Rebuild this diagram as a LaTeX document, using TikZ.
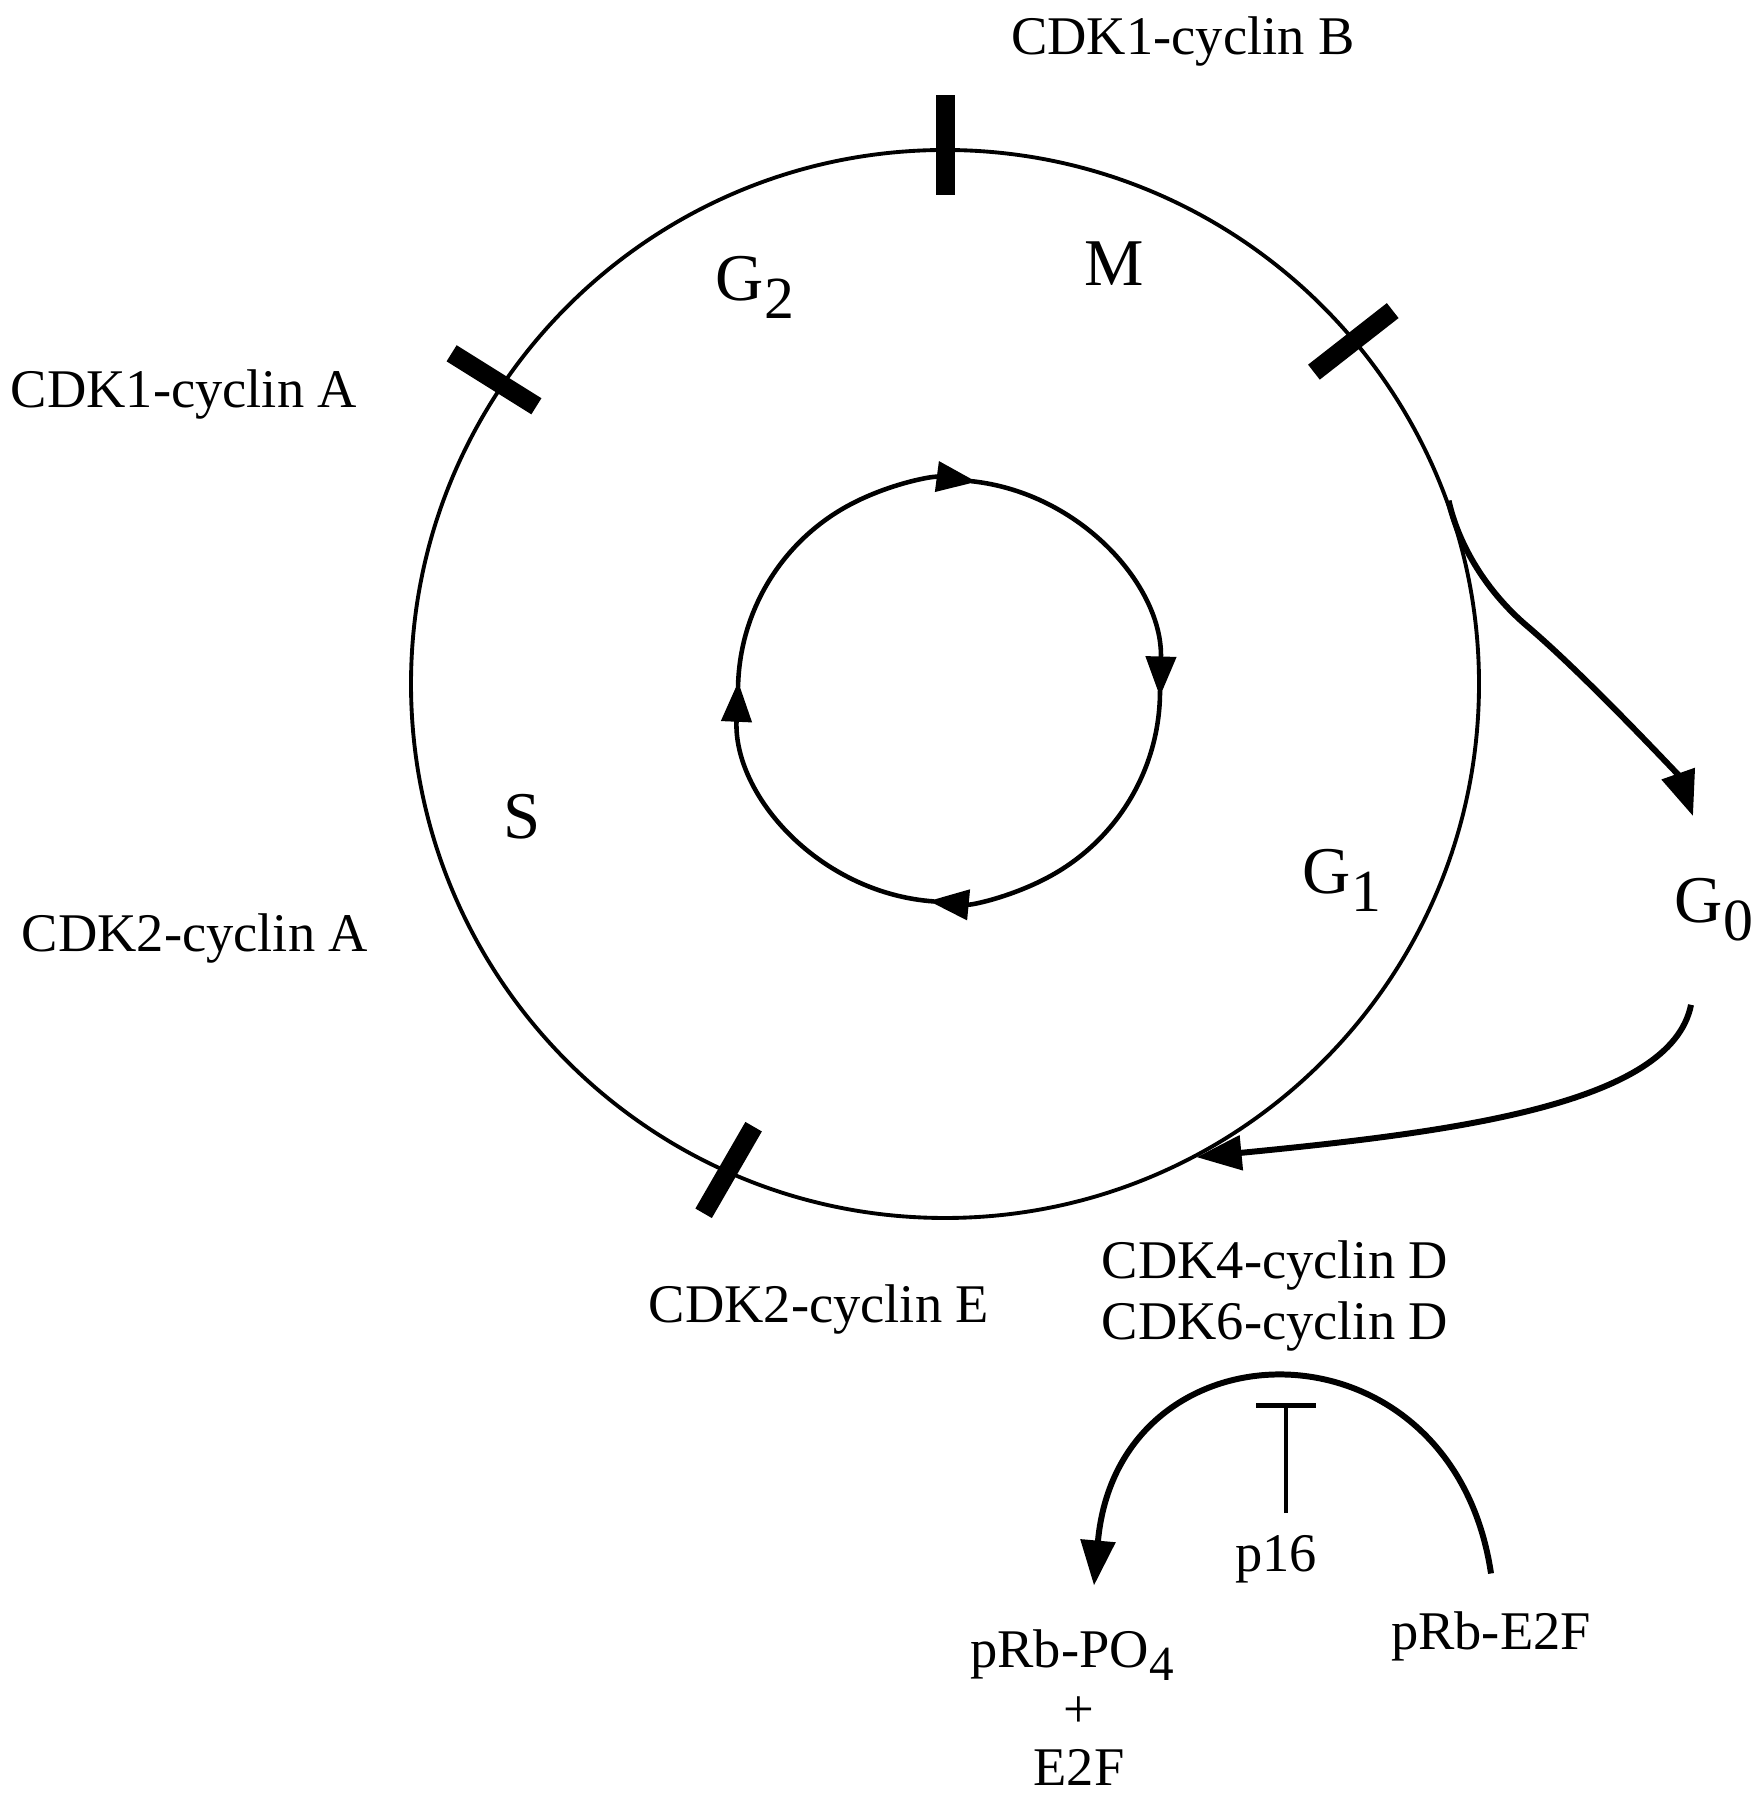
\documentclass[tikz,border=0pt]{standalone}
\usepackage{fontspec}
\setmainfont{Liberation Serif}
\usetikzlibrary{arrows.meta,calc}
\newcommand{\phsub}[1]{\raisebox{-5pt}{\fontsize{17pt}{17pt}\selectfont #1}}
\newcommand{\chsub}[1]{\raisebox{-3.5pt}{\fontsize{14pt}{14pt}\selectfont #1}}
\tikzset{
  >=Latex,
  cdk/.style={font=\fontsize{15.5pt}{18pt}\selectfont,anchor=base,inner sep=0pt},
  phase/.style={font=\fontsize{19pt}{22pt}\selectfont,anchor=base,inner sep=0pt},
  cellcycle/.style={draw,circle,line width=1.1pt,inner sep=0pt,minimum size=106.8mm},
  checkpt/.style={fill,rectangle,inner sep=0pt,minimum width=10mm,minimum height=1.9mm},
  cyc/.style={-{Triangle[length=4mm,width=3mm]},line width=1.3pt},
  flow/.style={-{Triangle[length=4.5mm,width=3.4mm]},line width=1.7pt},
  block/.style={-{Bar[width=6mm,line width=1.4pt]},line width=1pt}
}

\begin{document}
\begin{tikzpicture}[x=0.1mm,y=0.1mm]
  \useasboundingbox (0,0) rectangle (1760,1800);
  % outer ring and checkpoints
  \node[cellcycle] (cell) at (945,1116) {};
  \foreach \ang/\rot/\rr in {90/90/539,146/148/544,40/38/533,246/240/532}
    \node[checkpt,rotate=\rot] at ($(cell.center)+(\ang:\rr)$) {};
  % inner cycle
  \coordinate (hub) at (949,1109);
  \foreach \a/\b in {179/82.5,84/-1.5,0/-95.5,-94/-182.5}
    \draw[cyc] (hub) ++(\a:211) arc[start angle=\a,end angle=\b,radius=211];
  % phases
  \node[phase] (m) at (1114,1514) {M};
  \node[phase] (g2) at (755,1499) {G\phsub{2}};
  \node[phase] (s) at (522,961) {S};
  \node[phase] (g1) at (1342,906) {G\phsub{1}};
  \node[phase] (g0) at (1714,877) {G\phsub{0}};
  % complexes
  \node[cdk] (cdkb) at (1183,1745) {CDK1-cyclin B};
  \node[cdk] (cdka) at (184,1392) {CDK1-cyclin A};
  \node[cdk] (cdktwoa) at (195,848) {CDK2-cyclin A};
  \node[cdk] (cdke) at (819,477) {CDK2-cyclin E};
  \node[cdk] (cdkd) at (1275,521) {CDK4-cyclin D};
  \node[cdk] (cdksix) at (1275,460) {CDK6-cyclin D};
  \node[cdk] (p16) at (1276,228) {p16};
  \node[cdk] (rbpo) at (1072,132) {pRb-PO\chsub{4}};
  \node[cdk] (plus) at (1079,72) {+};
  \node[cdk] (efree) at (1079,15) {E2F};
  \node[cdk] (rbe2f) at (1491,150) {pRb-E2F};
  % G0 exit and re-entry
  \draw[flow] (cell.20) .. controls +(10,-45) and +(-40,34) .. (1527,1174)
    .. controls +(60,-51) and +(-14,40) .. ([xshift=-2.1mm,yshift=6.2mm]g0.north);
  \draw[flow] ([xshift=-2.3mm,yshift=-6.3mm]g0.south) .. controls +(-20,-100) and +(256,25) .. (cell.-62);
  % pRb phosphorylation
  \draw[flow] ([yshift=3.8mm]rbe2f.north) .. controls +(-39,262) and +(24,270) .. ([xshift=2.2mm,yshift=4.4mm]rbpo.north);
  \coordinate (stop) at ([xshift=1mm,yshift=13.2mm]p16.north);
  \draw[block] ([xshift=1mm,yshift=2.2mm]p16.north) -- (stop);
\end{tikzpicture}
\end{document}
